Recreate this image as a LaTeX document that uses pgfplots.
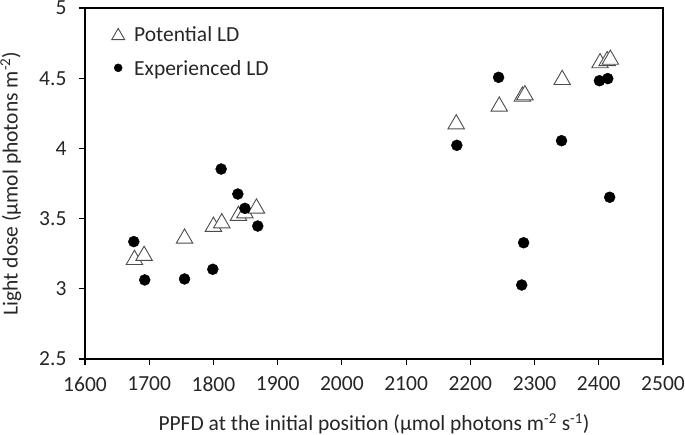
\documentclass[border=0pt]{standalone}
\usepackage{pgfplots}
\pgfplotsset{compat=1.18}
\usepackage{fontspec}
\setmainfont{Carlito}
\begin{document}
\begin{tikzpicture}
\begin{axis}[
  scale only axis,
  width=578pt, height=351pt,
  xmin=1600, xmax=2500, ymin=2.5, ymax=5,
  xtick={1600,1700,...,2500},
  ytick={2.5,3,3.5,4,4.5,5},
  tick align=outside,
  major tick length=6pt,
  tick style={black, line width=1.1pt},
  axis line style={black, line width=1.3pt},
  xtick pos=bottom, ytick pos=left,
  /pgf/number format/assume math mode=true,
  /pgf/number format/1000 sep={},
  ticklabel style={font=\fontsize{21.5}{24}\selectfont, text=black!85},
  yticklabel style={xshift=-9pt},
  xticklabel style={yshift=-8pt},
  xlabel={PPFD at the initial position (µmol photons m\textsuperscript{-2} s\textsuperscript{-1})},
  ylabel={Light dose (µmol photons m\textsuperscript{-2})},
  label style={font=\fontsize{21.5}{24}\selectfont, text=black!85},
  xlabel style={yshift=-15pt},
  ylabel style={yshift=11pt},
  legend style={draw=none, fill=none, at={(22pt,337pt)}, anchor=north west,
    font=\fontsize{21.5}{24}\selectfont, row sep=14pt, text=black!85},
  legend cell align=left,
  clip=false,
]
\addplot[only marks, mark=triangle*, mark size=9.5pt, mark options={draw=black!70, fill=white, line width=0.9pt, yshift=-2.4pt},
  legend image code/.code={\path[draw=none] (-8pt,0pt) -- (14pt,0pt); \draw[mark=triangle*, mark size=7.5pt, mark options={draw=black!70, fill=white, line width=0.9pt}] plot coordinates {(0pt,-1.5pt)};}]
coordinates {
(1677,3.224) (1692,3.253) (1755,3.376) (1800,3.46) (1813,3.485) (1839,3.538) (1849,3.556) (1867,3.59)
(2178,4.19) (2245,4.316) (2281,4.387) (2285,4.397) (2343,4.506) (2402,4.625) (2413,4.64) (2418,4.65)
};
\addlegendentry{Potential LD}
\addplot[only marks, mark=*, mark size=5.5pt, mark options={draw=black, fill=black},
  legend image code/.code={\path[draw=none] (-8pt,0pt) -- (14pt,0pt); \draw[mark=*, mark size=4pt, mark options={draw=black, fill=black}] plot coordinates {(0pt,1pt)};}]
coordinates {
(1676,3.336) (1693,3.063) (1755,3.07) (1799,3.139) (1812,3.853) (1838,3.675) (1849,3.573) (1869,3.447)
(2179,4.022) (2244,4.506) (2283,3.328) (2280,3.027) (2342,4.055) (2401,4.482) (2414,4.497) (2417,3.652)
};
\addlegendentry{Experienced LD}
\end{axis}
\pgfresetboundingbox
\path (-85pt,-76pt) rectangle (600pt,359pt);
\end{tikzpicture}
\end{document}
